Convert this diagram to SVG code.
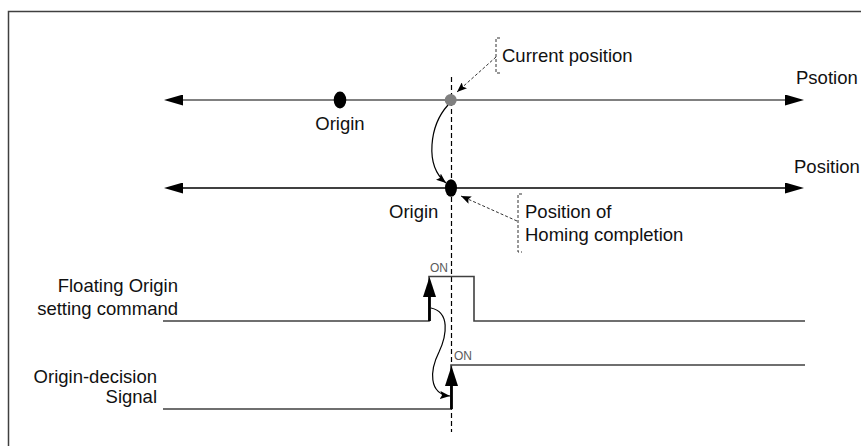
<svg xmlns="http://www.w3.org/2000/svg" width="861" height="446" viewBox="0 0 861 446">
<style>
text{font-family:"Liberation Sans",Arial,sans-serif;font-size:18.5px;fill:#111}
.on{font-size:12px;fill:#5a5a5a}
.end{text-anchor:end}
.mid{text-anchor:middle}
.sig{fill:none;stroke:#404040;stroke-width:1.6}
.dash{fill:none;stroke:#333;stroke-width:1;stroke-dasharray:3,2}
.curve{fill:none;stroke:#000;stroke-width:1.2}
</style>
<defs>
<marker id="axis" viewBox="0 0 19 11" refX="13" refY="5.5" markerWidth="19" markerHeight="11" markerUnits="userSpaceOnUse" orient="auto-start-reverse">
<path d="M0,0 L19,5.5 L0,11 z" fill="#000"/>
</marker>
<marker id="small" viewBox="0 0 10 8" refX="10" refY="4" markerWidth="10" markerHeight="8" markerUnits="userSpaceOnUse" orient="auto">
<path d="M0,0 L10,4 L0,8 L2,4 z" fill="#000"/>
</marker>
</defs>
<path d="M8.5,446 V11.5 H861" fill="none" stroke="#404040" stroke-width="1.5"/>
<g id="connectors">
<line x1="170" y1="100" x2="798" y2="100" stroke="#808080" stroke-width="2" marker-start="url(#axis)" marker-end="url(#axis)"/>
<line x1="170" y1="188" x2="798" y2="188" stroke="#000" stroke-width="1.5" marker-start="url(#axis)" marker-end="url(#axis)"/>
<line x1="451.5" y1="77" x2="451.5" y2="432" stroke="#000" stroke-width="1.2" stroke-dasharray="5,3"/>
<path class="curve" d="M448,105 C430,125 424,165 446,183" marker-end="url(#small)"/>
<path class="curve" d="M431,308 C450,312 447,335 439,352 C430,370 428,394 450,396" marker-end="url(#small)"/>
<path class="dash" d="M496,57 L457,92" marker-end="url(#small)"/>
<path class="dash" d="M517,221 L461,196" marker-end="url(#small)"/>
</g>
<g id="current-position">
<circle cx="450.7" cy="100" r="6" fill="#808080"/>
<path class="dash" d="M500,38 H496 V73 H500"/>
<text x="502" y="62">Current position</text>
</g>
<g id="origin-top">
<ellipse cx="340" cy="100" rx="6.3" ry="8.5" fill="#000"/>
<text class="mid" x="340" y="130">Origin</text>
</g>
<g id="axis-labels">
<text x="796" y="84">Psotion</text>
<text x="794" y="173">Position</text>
</g>
<g id="origin-bottom">
<ellipse cx="451" cy="188" rx="6" ry="8.7" fill="#000"/>
<text x="389" y="218">Origin</text>
</g>
<g id="homing-completion">
<path class="dash" d="M522,194 H518 V252 H522"/>
<text x="525" y="218">Position of</text>
<text x="525" y="241">Homing completion</text>
</g>
<g id="floating-origin-signal">
<text class="end" x="178" y="292">Floating Origin</text>
<text class="end" x="178" y="315">setting command</text>
<path class="sig" d="M163,321 H429 V276.5 H474 V321 H805"/>
<line x1="429.5" y1="321" x2="429.5" y2="294" stroke="#000" stroke-width="2.8"/>
<path d="M429.5,277 L436,297 L423,297 z" fill="#000"/>
<text class="on" x="430" y="272">ON</text>
</g>
<g id="origin-decision-signal">
<text class="end" x="157" y="383">Origin-decision</text>
<text class="end" x="157" y="403">Signal</text>
<path class="sig" d="M163,409 H451 V365 H805"/>
<line x1="451.5" y1="409" x2="451.5" y2="383" stroke="#000" stroke-width="2.8"/>
<path d="M451.5,366 L458,386 L445,386 z" fill="#000"/>
<text class="on" x="454" y="360">ON</text>
</g>
</svg>
